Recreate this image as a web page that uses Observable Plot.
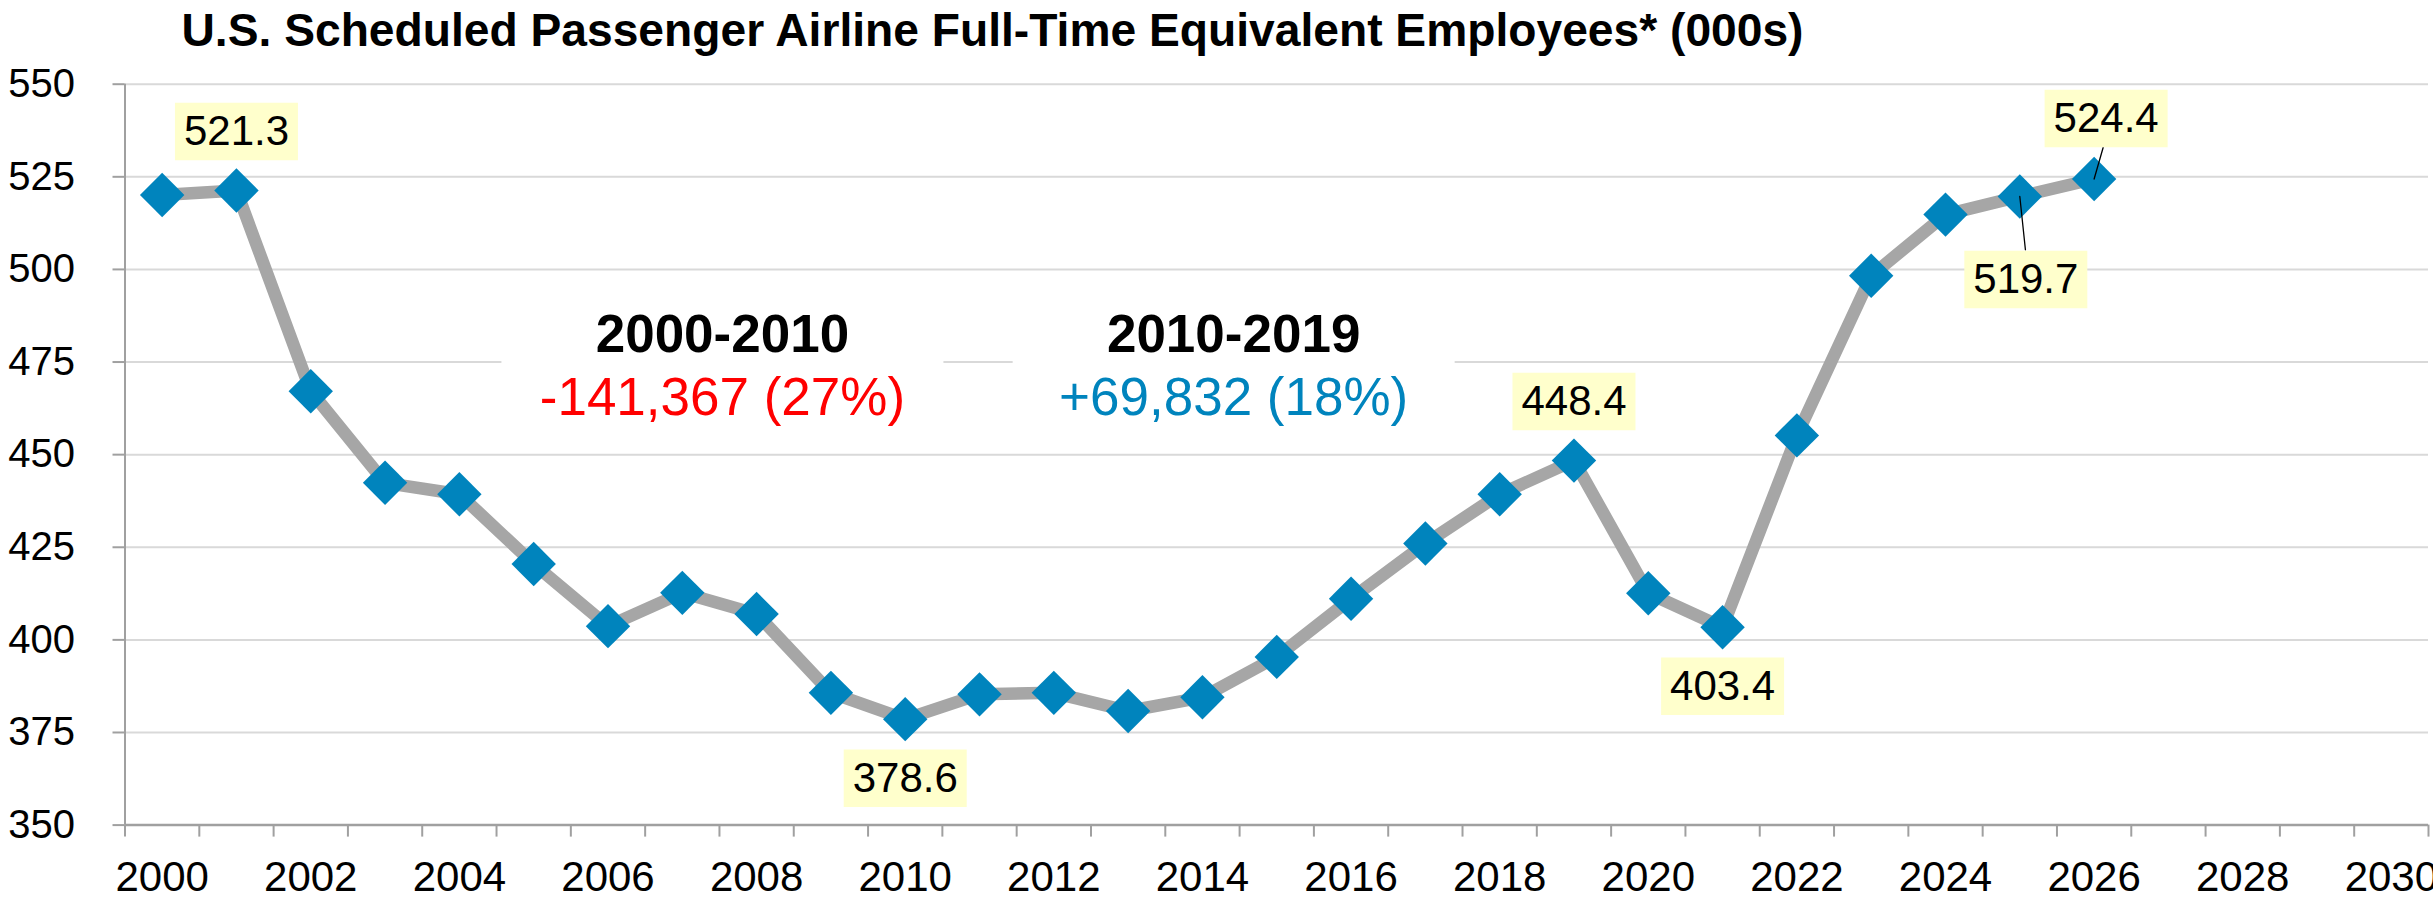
<!DOCTYPE html>
<html>
<head>
<meta charset="utf-8">
<script src="https://cdn.jsdelivr.net/npm/d3@7"></script>
<script src="https://cdn.jsdelivr.net/npm/@observablehq/plot@0.6"></script>
<style>
  html, body { margin: 0; padding: 0; background: #ffffff; }
  #chart { width: 2433px; height: 900px; overflow: hidden; }
</style>
</head>
<body>
<div id="chart"></div>
<script>
// ---------------- data ----------------
const title = "U.S. Scheduled Passenger Airline Full-Time Equivalent Employees* (000s)";
const years = [2000, 2001, 2002, 2003, 2004, 2005, 2006, 2007, 2008, 2009, 2010, 2011, 2012, 2013,
               2014, 2015, 2016, 2017, 2018, 2019, 2020, 2021, 2022, 2023, 2024, 2025, 2026];
const employees = [520.1, 521.3, 467.1, 442.4, 439.3, 420.5, 403.7, 412.7, 407.0, 385.7, 378.6, 385.3, 385.7, 380.8,
                   384.5, 395.4, 411.1, 426.0, 439.3, 448.4, 412.6, 403.4, 455.2, 498.3, 514.8, 519.7, 524.4];
const yTicks = [350, 375, 400, 425, 450, 475, 500, 525, 550];
const xTickLabels = [2000, 2002, 2004, 2006, 2008, 2010, 2012, 2014, 2016, 2018, 2020, 2022, 2024, 2026, 2028, 2030];
const xCategoryStart = 2000;
const xCategoryEnd = 2030;
const labeledYears = [2001, 2010, 2019, 2021, 2025, 2026];
const periods = ["2000-2010", "2010-2019"];
const periodChanges = ["-141,367 (27%)", "+69,832 (18%)"];

// ---------------- layout & style ----------------
const FONT = "'Liberation Sans', Arial, Helvetica, sans-serif";
const BLUE = "#0084bd";
const periodColors = ["#ff0000", BLUE];
const periodX = [2007.54, 2014.42];
const periodHeaderY = 477.6;
const periodChangeY = 460.6;
const periodBoxY = 470;
const labelPlacement = {
  2001: {dx: 0, dy: -59},
  2010: {dx: 0, dy: 59},
  2019: {dx: 0, dy: -59},
  2021: {dx: 0, dy: 59},
  2025: {dx: 6, dy: 83},
  2026: {dx: 12, dy: -60.5}
};
const leaders = {
  2025: {length: 53.6, rotate: 174},
  2026: {length: 32.8, rotate: 16}
};

const data = years.map((year, i) => ({year, value: employees[i]}));
const byYear = new Map(data.map(d => [d.year, d]));

// category boundaries (Excel-style category axis: ticks between categories)
const boundaries = d3.range(xCategoryStart - 0.5, xCategoryEnd + 1, 1);

const boxSymbol = (w, h) => ({ draw(ctx) { ctx.rect(-w / 2, -h / 2, w, h); } });
const lineShape = { draw(ctx, l) { ctx.moveTo(0, 0); ctx.lineTo(0, -l); } };

const labelMarks = [];
for (const yr of labeledYears) {
  const d = byYear.get(yr);
  const p = labelPlacement[yr];
  if (leaders[yr]) {
    labelMarks.push(Plot.vector([d], {
      x: "year", y: "value", length: leaders[yr].length, rotate: leaders[yr].rotate,
      anchor: "start", shape: lineShape, stroke: "#000000", strokeWidth: 1.3
    }));
  }
  labelMarks.push(Plot.dot([d], {
    x: "year", y: "value", dx: p.dx, dy: p.dy, r: 10,
    symbol: boxSymbol(123, 57.5), fill: "#ffffcc", stroke: "none"
  }));
  labelMarks.push(Plot.text([d], {
    x: "year", y: "value", dx: p.dx, dy: p.dy,
    text: d => d3.format(".1f")(d.value),
    fontSize: 42, fill: "#000000", textAnchor: "middle", lineAnchor: "middle", fontFamily: FONT
  }));
}

const periodData = periods.map((p, i) => ({x: periodX[i], header: p, change: periodChanges[i], color: periodColors[i]}));

const chart = Plot.plot({
  width: 2433,
  height: 900,
  marginLeft: 124.5,
  marginRight: 5,
  marginTop: 83.7,
  marginBottom: 75.4,
  style: {fontFamily: FONT, background: "#ffffff", overflow: "visible"},
  x: {domain: [xCategoryStart - 0.5, xCategoryEnd + 0.5]},
  y: {domain: [350, 550]},
  marks: [
    Plot.gridY(yTicks.filter(t => t > 350), {stroke: "#d9d9d9", strokeOpacity: 1, strokeWidth: 2}),
    // white backing boxes behind period annotations
    Plot.dot(periodData, {x: "x", y: () => periodBoxY, r: 10, symbol: boxSymbol(442, 130), fill: "#ffffff", stroke: "none"}),
    Plot.text(periodData, {x: "x", y: () => periodHeaderY, text: "header", fontSize: 53, fontWeight: "bold",
      fill: "#000000", textAnchor: "middle", lineAnchor: "bottom", fontFamily: FONT}),
    Plot.text(periodData, {x: "x", y: () => periodChangeY, text: "change", fontSize: 53,
      fill: "color", textAnchor: "middle", lineAnchor: "bottom", fontFamily: FONT}),
    // axis lines
    Plot.ruleX([xCategoryStart - 0.5], {stroke: "#a0a0a0", strokeWidth: 2}),
    Plot.ruleY([350], {stroke: "#a0a0a0", strokeWidth: 2.5}),
    Plot.axisY(yTicks, {tickSize: 12, tickPadding: 38, fontSize: 40, stroke: "#a0a0a0", strokeWidth: 2,
      fill: "#000000", label: null, fontFamily: FONT}),
    Plot.axisX(boundaries, {tickSize: 12, tickFormat: () => "", stroke: "#a0a0a0", strokeWidth: 2, label: null}),
    Plot.axisX(xTickLabels, {tickSize: 0, tickPadding: 36, fontSize: 42, fill: "#000000",
      tickFormat: d => String(d), label: null, fontFamily: FONT}),
    // series
    Plot.line(data, {x: "year", y: "value", stroke: "#a6a6a6", strokeWidth: 12.5, strokeLinejoin: "round", strokeLinecap: "butt"}),
    Plot.dot(data, {x: "year", y: "value", symbol: "diamond2", r: 20, fill: BLUE, stroke: "none"}),
    ...labelMarks,
    // title
    Plot.text([title], {frameAnchor: "top-left", dx: 56.5, dy: -37.7, text: d => d, fontSize: 46,
      fontWeight: "bold", fill: "#000000", textAnchor: "start", lineAnchor: "bottom", fontFamily: FONT})
  ]
});

document.getElementById("chart").appendChild(chart);
d3.select(chart).selectAll("text").filter(function () { return this.textContent === title; })
  .attr("textLength", 1622).attr("lengthAdjust", "spacingAndGlyphs");
</script>
</body>
</html>
